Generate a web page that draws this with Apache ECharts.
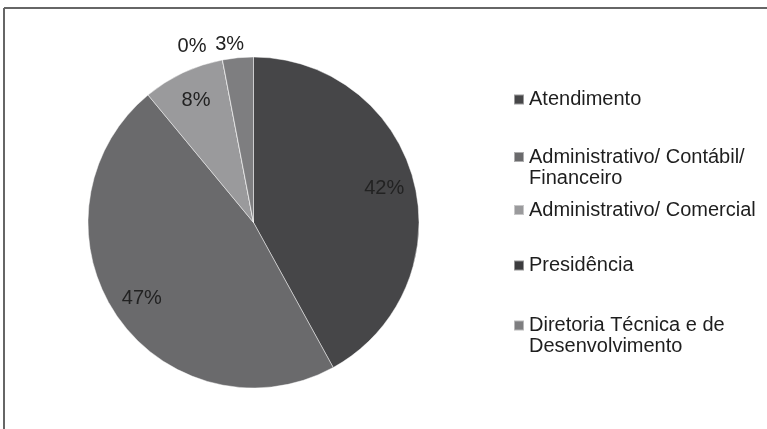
<!DOCTYPE html>
<html>
<head>
<meta charset="utf-8">
<script src="https://cdn.jsdelivr.net/npm/echarts@6/dist/echarts.min.js"></script>
<style>
  html, body { margin: 0; padding: 0; background: #fff; }
  #chart { width: 767px; height: 429px; }
</style>
</head>
<body>
<div id="chart"></div>
<script>
// Share of staff by department (%)
const categories = [
  'Atendimento',
  'Administrativo/ Contábil/\nFinanceiro',
  'Administrativo/ Comercial',
  'Presidência',
  'Diretoria Técnica e de\nDesenvolvimento'
];
const shares = [42, 47, 8, 0, 3];
const sliceColors = ['#464648', '#6a6a6c', '#9a9a9c', '#3c3c3e', '#7e7e80'];

const FONT = '"Liberation Sans", Arial, sans-serif';
const CX = 253.5, CY = 222.5, R = 165.5;

const pieData = categories.map((name, i) => ({
  name,
  value: shares[i],
  itemStyle: { color: sliceColors[i] }
}));

// Transparent ring carrying the percentage labels (its mid-radius sits near the outer edge)
const labelData = categories.map((name, i) => ({
  name,
  value: shares[i],
  label: { position: shares[i] < 5 ? 'outside' : 'inside' }
}));

// One legend block per entry; wrapped names get a blank leading line so the
// marker lines up with their first line of text
const legendTops = [89, 125.5, 199.5, 255, 294];
const legends = categories.map((name, i) => ({
  data: [name],
  orient: 'vertical',
  left: 513,
  top: legendTops[i],
  padding: 0,
  itemWidth: 10,
  itemHeight: 10,
  icon: 'rect',
  selectedMode: false,
  formatter: n => (n.indexOf('\n') >= 0 ? ' \n' + n : n),
  textStyle: {
    fontFamily: FONT,
    fontSize: 20,
    color: '#1e1e1e',
    lineHeight: 21
  }
}));

const chart = echarts.init(document.getElementById('chart'), null, { renderer: 'canvas' });
chart.setOption({
  backgroundColor: '#ffffff',
  animation: false,
  color: sliceColors,
  legend: legends,
  graphic: [
    { type: 'line', shape: { x1: 4, y1: 8, x2: 767, y2: 8 }, style: { stroke: '#666', lineWidth: 2 } },
    { type: 'line', shape: { x1: 4, y1: 8, x2: 4, y2: 429 }, style: { stroke: '#666', lineWidth: 2 } }
  ],
  series: [
    {
      type: 'pie',
      center: [CX, CY],
      radius: [0, R],
      startAngle: 90,
      clockwise: true,
      avoidLabelOverlap: false,
      label: { show: false },
      labelLine: { show: false },
      itemStyle: { borderColor: 'rgba(255,255,255,0.45)', borderWidth: 1 },
      emphasis: { disabled: true },
      data: pieData
    },
    {
      type: 'pie',
      center: [CX, CY],
      radius: [98.5, R],
      startAngle: 90,
      clockwise: true,
      silent: true,
      avoidLabelOverlap: false,
      legendHoverLink: false,
      itemStyle: { color: 'rgba(0,0,0,0)' },
      emphasis: { disabled: true },
      label: {
        show: true,
        formatter: '{c}%',
        fontFamily: FONT,
        fontSize: 20,
        color: '#222'
      },
      labelLine: { show: false, length: 13, length2: 0 },
      labelLayout: function (p) {
        if (p.dataIndex === 3) return { align: 'center', dx: -23, dy: -1 };
        if (p.dataIndex === 4) return { align: 'center', dx: -2 };
        return {};
      },
      data: labelData
    }
  ]
});
</script>
</body>
</html>
